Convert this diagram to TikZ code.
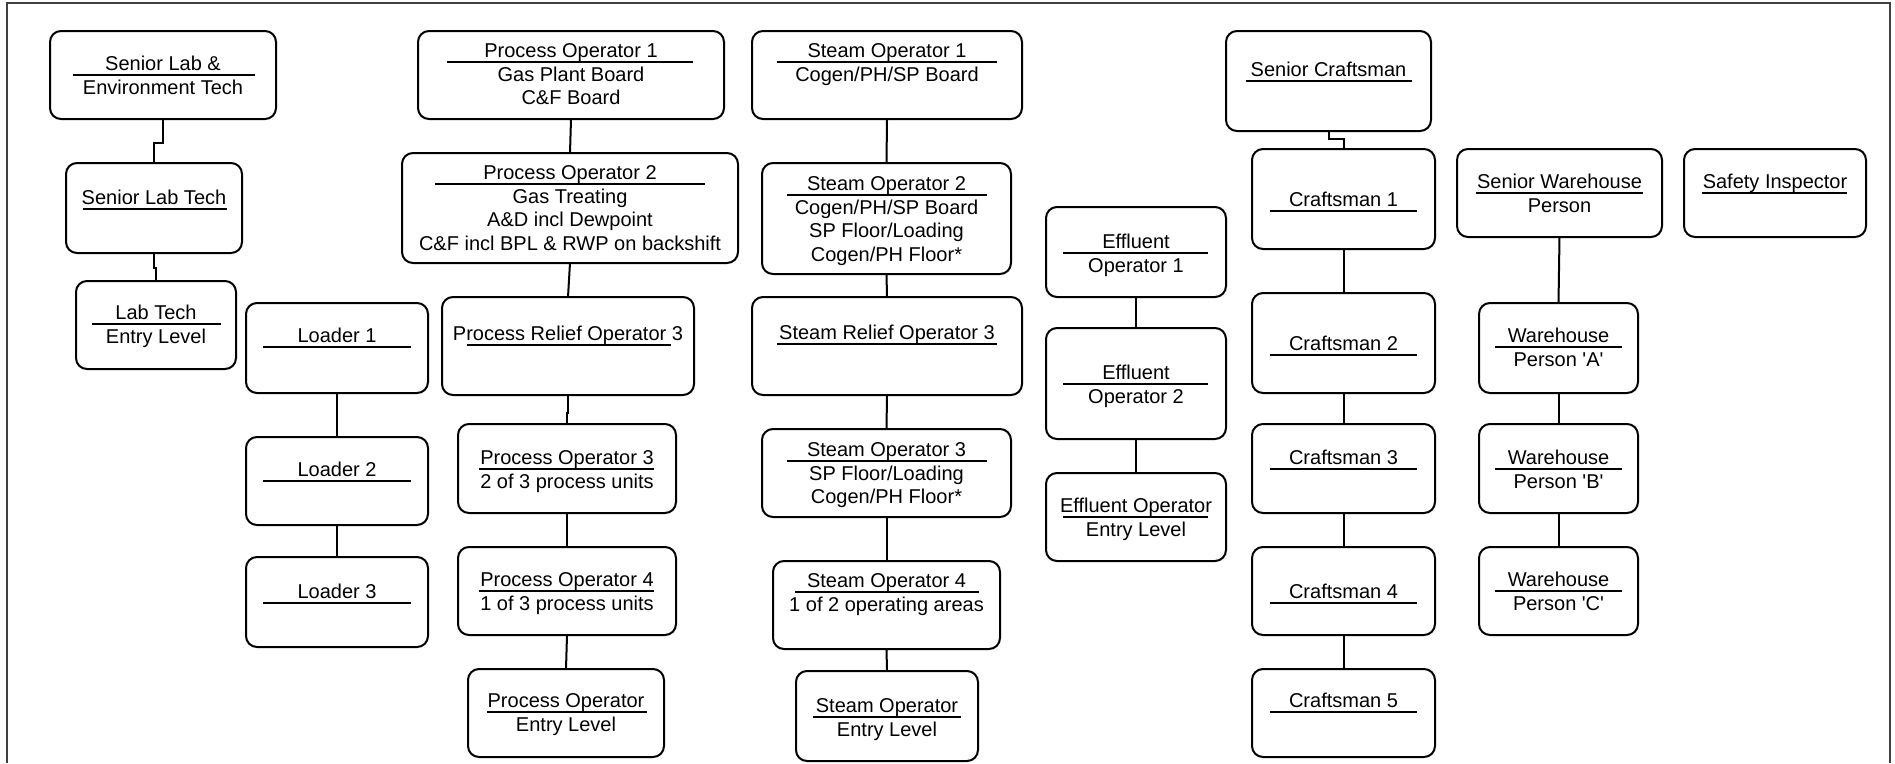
\documentclass[tikz,border=0pt]{standalone}
\usepackage{fontspec}
\setmainfont{Liberation Sans}
\tikzset{
  obox/.style={draw, line width=2pt, rounded corners=11pt, inner sep=0pt, outer sep=0pt},
  txt/.style={anchor=base, inner sep=0pt, outer sep=0pt, font=\fontsize{20}{24}\selectfont},
  rulel/.style={line width=2pt},
  link/.style={line width=2pt},
  frame/.style={line width=2pt, black!75}
}
\newcommand\orgbox[9]{%
  \node[obox, minimum width={(#4-#2)*1pt}, minimum height={(#5-#3)*1pt}] (#1) at ({(#2+#4)/2},{(#3+#5)/2}) {};
  \draw[rulel] (#7,#6) -- (#8,#6);
  \node[txt] (#1-t) at ({(#2+#4)/2},{#6-5}) {#9};
}
\newcommand\subl[3]{\node[txt] (#1-#2) at ([yshift={-(0.5+23.5*#2)*1pt}]#1-t.base) {#3};}
\begin{document}
\begin{tikzpicture}[x=1pt,y=-1pt]
\useasboundingbox (0,0) rectangle (1895,763);
\fill[white] (0,0) rectangle (1895,763);
\draw[frame] (7,763) -- (7,3) -- (1890,3) -- (1890,763);

% Lab column
\orgbox{sle}{50}{31}{276}{119}{75}{73}{255}{Senior Lab \&}
\subl{sle}{1}{Environment Tech}
\orgbox{slt}{66}{163}{242}{253}{209}{83}{227}{Senior Lab Tech}
\orgbox{lt}{76}{281}{236}{369}{324}{92}{221}{Lab Tech}
\subl{lt}{1}{Entry Level}

% Loaders
\orgbox{la}{246}{303}{428}{393}{347}{263}{411}{Loader 1}
\orgbox{lb}{246}{437}{428}{525}{481}{263}{411}{Loader 2}
\orgbox{lc}{246}{557}{428}{647}{603}{263}{411}{Loader 3}

% Process column
\orgbox{poa}{418}{31}{724}{119}{62}{447}{693}{Process Operator 1}
\subl{poa}{1}{Gas Plant Board}
\subl{poa}{2}{C\&F Board}
\orgbox{pob}{402}{153}{738}{263}{184}{435}{705}{Process Operator 2}
\subl{pob}{1}{Gas Treating}
\subl{pob}{2}{A\&D incl Dewpoint}
\subl{pob}{3}{C\&F incl BPL \& RWP on backshift}
\orgbox{pro}{442}{297}{694}{395}{345}{467}{671}{Process Relief Operator 3}
\orgbox{poc}{458}{424}{676}{513}{469}{479}{654}{Process Operator 3}
\subl{poc}{1}{2 of 3 process units}
\orgbox{pod}{458}{547}{676}{635}{591}{479}{654}{Process Operator 4}
\subl{pod}{1}{1 of 3 process units}
\orgbox{poe}{468}{669}{664}{757}{712}{487}{647}{Process Operator}
\subl{poe}{1}{Entry Level}

% Steam column
\orgbox{soa}{752}{31}{1022}{119}{62}{777}{997}{Steam Operator 1}
\subl{soa}{1}{Cogen/PH/SP Board}
\orgbox{sob}{762}{163}{1011}{274}{195}{787}{987}{Steam Operator 2}
\subl{sob}{1}{Cogen/PH/SP Board}
\subl{sob}{2}{SP Floor/Loading}
\subl{sob}{3}{Cogen/PH Floor*}
\orgbox{sro}{752}{297}{1022}{395}{344}{777}{997}{Steam Relief Operator 3}
\orgbox{soc}{762}{429}{1011}{517}{461}{787}{987}{Steam Operator 3}
\subl{soc}{1}{SP Floor/Loading}
\subl{soc}{2}{Cogen/PH Floor*}
\orgbox{sod}{773}{561}{1000}{649}{592}{795}{979}{Steam Operator 4}
\subl{sod}{1}{1 of 2 operating areas}
\orgbox{soe}{796}{671}{978}{761}{717}{813}{961}{Steam Operator}
\subl{soe}{1}{Entry Level}

% Effluent column
\orgbox{eoa}{1046}{207}{1226}{297}{253}{1063}{1208}{Effluent}
\subl{eoa}{1}{Operator 1}
\orgbox{eob}{1046}{328}{1226}{439}{384}{1063}{1208}{Effluent}
\subl{eob}{1}{Operator 2}
\orgbox{eoe}{1046}{473}{1226}{561}{517}{1063}{1208}{Effluent Operator}
\subl{eoe}{1}{Entry Level}

% Craftsmen
\orgbox{sc}{1226}{31}{1431}{131}{81}{1246}{1412}{Senior Craftsman}
\orgbox{ca}{1252}{149}{1435}{249}{211}{1270}{1417}{Craftsman 1}
\orgbox{cb}{1252}{293}{1435}{393}{355}{1270}{1417}{Craftsman 2}
\orgbox{cc}{1252}{424}{1435}{513}{469}{1270}{1417}{Craftsman 3}
\orgbox{cd}{1252}{547}{1435}{635}{603}{1270}{1417}{Craftsman 4}
\orgbox{ce}{1252}{669}{1435}{757}{712}{1270}{1417}{Craftsman 5}

% Warehouse and safety
\orgbox{swp}{1457}{149}{1662}{237}{193}{1476}{1643}{Senior Warehouse}
\subl{swp}{1}{Person}
\orgbox{wpa}{1479}{303}{1638}{393}{347}{1495}{1622}{Warehouse}
\subl{wpa}{1}{Person \textquotesingle A\textquotesingle}
\orgbox{wpb}{1479}{424}{1638}{513}{469}{1495}{1622}{Warehouse}
\subl{wpb}{1}{Person \textquotesingle B\textquotesingle}
\orgbox{wpc}{1479}{547}{1638}{635}{591}{1495}{1622}{Warehouse}
\subl{wpc}{1}{Person \textquotesingle C\textquotesingle}
\orgbox{si}{1684}{149}{1866}{237}{193}{1702}{1847}{Safety Inspector}

% Connectors
\draw[link] (sle.south) -- ++(0,24) -| (slt.north);
\draw[link] (slt.south) -- ++(0,15) -| (lt.north);
\draw[link] (la.south) -- (lb.north);
\draw[link] (lb.south) -- (lc.north);
\draw[link] (poa.south) -- (pob.north);
\draw[link] (pob.south) -- (pro.north);
\draw[link] (pro.south) -- ++(0,18) -| (poc.north);
\draw[link] (poc.south) -- (pod.north);
\draw[link] (pod.south) -- (poe.north);
\draw[link] (soa.south) -- (sob.north);
\draw[link] (sob.south) -- (sro.north);
\draw[link] (sro.south) -- (soc.north);
\draw[link] (soc.south) -- (sod.north);
\draw[link] (sod.south) -- (soe.north);
\draw[link] (eoa.south) -- (eob.north);
\draw[link] (eob.south) -- (eoe.north);
\draw[link] (sc.south) -- ++(0,8) -| (ca.north);
\draw[link] (ca.south) -- (cb.north);
\draw[link] (cb.south) -- (cc.north);
\draw[link] (cc.south) -- (cd.north);
\draw[link] (cd.south) -- (ce.north);
\draw[link] (swp.south) -- (wpa.north);
\draw[link] (wpa.south) -- (wpb.north);
\draw[link] (wpb.south) -- (wpc.north);
\end{tikzpicture}
\end{document}
